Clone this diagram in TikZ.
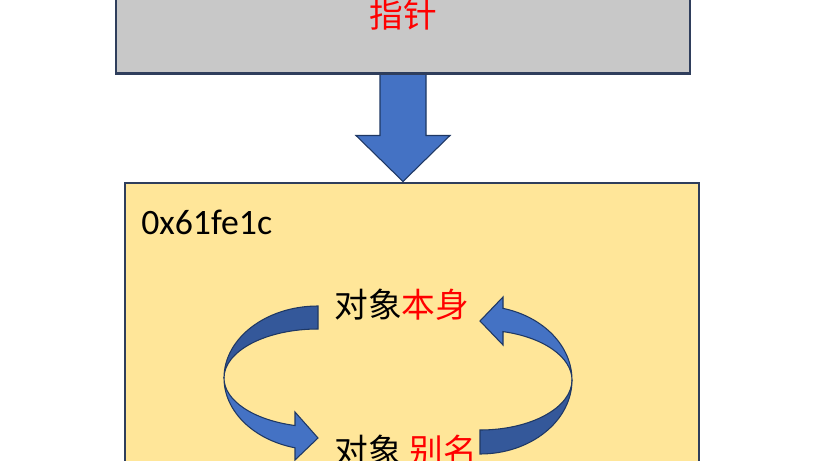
\documentclass[tikz,border=0pt]{standalone}
\usepackage{fontspec}
\setmainfont{Carlito}
\newfontfamily\cjk{Noto Sans CJK SC}
\usetikzlibrary{calc}
\definecolor{boxline}{HTML}{2F3E5C}
\definecolor{grayfill}{HTML}{C8C8C8}
\definecolor{yel}{HTML}{FFE699}
\definecolor{blu}{HTML}{4472C4}
\definecolor{dblu}{HTML}{34589A}
\definecolor{arrline}{HTML}{1F3864}
\definecolor{txtred}{HTML}{FF0000}
\begin{document}
\begin{tikzpicture}[x=0.75pt,y=-0.75pt,
  panel/.style={draw=boxline, line width=1.5pt, inner sep=0pt},
  blockarrow/.style={fill=blu, draw=arrline, line width=0.8pt, line join=miter},
  ribbonfront/.style={fill=blu, draw=arrline, line width=0.8pt, line join=miter},
  ribbonback/.style={fill=dblu, draw=arrline, line width=0.8pt, line join=miter},
  cjktext/.style={font=\cjk\fontsize{25.3}{30}\selectfont, inner sep=0pt},
  addr/.style={font=\fontsize{26.8}{31}\selectfont, inner sep=0pt}]
\useasboundingbox (0,0) rectangle (819,461);
\fill[white] (0,0) rectangle (819,461);

% boxes
\node[panel, fill=grayfill, minimum width=430.5pt, minimum height=76.875pt] (g) at (403,21.25) {};
\node[panel, fill=yel, minimum width=430.5pt, minimum height=230.6pt] (y) at (412,336.25) {};

% block arrow from pointer box to object box
\coordinate (tip) at (g.south |- y.north);
\draw[blockarrow] ($(g.south)+(-23,0)$) -- ($(tip)+(-23,-46)$) -- ($(tip)+(-47,-46)$)
  -- (tip) -- ($(tip)+(47,-46)$) -- ($(tip)+(23,-46)$) -- ($(g.south)+(23,0)$) -- cycle;
\draw[boxline, line width=1.5pt] (g.south west) -- (g.south east);

% texts
\node[cjktext, text=txtred] (ptr) at (403,15) {指针};
\node[addr, anchor=west] (ad) at (141,222) {0x61fe1c};
\node[cjktext, anchor=west] (self) at (334,305) {对象\textcolor{txtred}{本身}};
\node[cjktext, anchor=west] (alias) at (334,451) {对象 \textcolor{txtred}{别名}};

% left curved arrow (self -> alias)
\draw[ribbonback] (318,306) arc[start angle=270, end angle=180, x radius=94, y radius=72]
  arc[start angle=180, end angle=270, x radius=94, y radius=49] -- cycle;
\draw[ribbonfront] (224,378) arc[start angle=180, end angle=104.16, x radius=94, y radius=72]
  -- (295,460) -- (318,438) -- (295,412) -- (295,425.5)
  arc[start angle=104.16, end angle=180, x radius=94, y radius=49] -- cycle;

% right curved arrow (alias -> self)
\draw[ribbonback] (480,454) arc[start angle=90, end angle=0, x radius=92, y radius=74]
  arc[start angle=0, end angle=90, x radius=92, y radius=50] -- cycle;
\draw[ribbonfront] (572,380) arc[start angle=360, end angle=284.48, x radius=92, y radius=74]
  -- (503,297) -- (480,321) -- (503,345) -- (503,331.6)
  arc[start angle=284.48, end angle=360, x radius=92, y radius=50] -- cycle;
\end{tikzpicture}
\end{document}
